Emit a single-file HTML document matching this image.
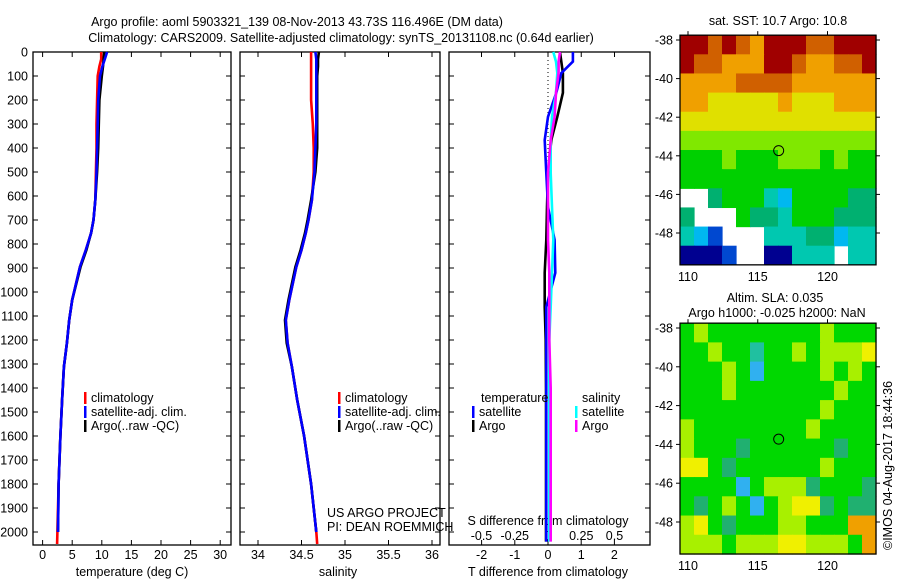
<!DOCTYPE html>
<html><head><meta charset="utf-8"><style>
html,body{margin:0;padding:0;background:#fff;}
svg{display:block;font-family:"Liberation Sans",sans-serif;}
text{font-size:12.5px;fill:#000;}
</style></head><body>
<svg id="c" width="900" height="580" viewBox="0 0 900 580" xmlns="http://www.w3.org/2000/svg">
<text x="297" y="26" text-anchor="middle">Argo profile: aoml 5903321_139 08-Nov-2013 43.73S 116.496E (DM data)</text>
<text x="341" y="42" text-anchor="middle">Climatology: CARS2009. Satellite-adjusted climatology: synTS_20131108.nc (0.64d earlier)</text>
<text x="778" y="25" text-anchor="middle">sat. SST: 10.7 Argo: 10.8</text>
<text x="775" y="302" text-anchor="middle">Altim. SLA: 0.035</text>
<text x="777" y="317" text-anchor="middle">Argo h1000: -0.025 h2000: NaN</text>
<text x="0" y="0" transform="translate(892,550) rotate(-90)">©IMOS 04-Aug-2017 18:44:36</text>
<text x="327" y="517">US ARGO PROJECT</text>
<text x="327" y="531">PI: DEAN ROEMMICH</text>
<g id="g"></g>
</svg>
<script>
// ---- data ----
const depthTicks=[0,100,200,300,400,500,600,700,800,900,1000,1100,1200,1300,1400,1500,1600,1700,1800,1900,2000];
const tempTicks=[0,5,10,15,20,25,30];
const salTicks=[34,34.5,35,35.5,36];
const tdTicks=[-2,-1,0,1,2];
const sdTicks=[-0.5,-0.25,0,0.25,0.5];
const depths=[0,30,60,100,200,300,400,500,617,700,754,825,896,1033,1117,1213,1312,1450,1600,1800,2000,2050];
const tempClim=[9.9,9.9,9.6,9.3,9.2,9.1,9.1,9.0,8.9,8.6,8.2,7.3,6.3,5.0,4.5,4.1,3.6,3.3,3.0,2.7,2.5,2.45];
const tempSat=[10.9,10.5,10.1,9.7,9.4,9.3,9.2,9.1,8.9,8.6,8.2,7.3,6.3,5.0,4.5,4.1,3.6,3.3,3.0,2.7,2.6,null];
const tempArgo=[10.4,10.3,10.2,10.0,9.6,9.5,9.4,9.2,8.9,8.6,8.2,7.4,6.4,5.0,4.5,4.1,3.6,3.3,3.0,2.7,2.6,null];
const salClim=[34.61,34.61,34.61,34.61,34.61,34.63,34.64,34.64,34.62,34.58,34.55,34.50,34.44,34.36,34.32,34.34,34.39,34.45,34.53,34.61,34.67,34.68];
const salSat=[34.66,34.67,34.67,34.67,34.67,34.67,34.66,34.65,34.62,34.58,34.55,34.50,34.44,34.36,34.32,34.34,34.39,34.45,34.53,34.61,34.67,null];
const salArgo=[34.70,34.69,34.69,34.68,34.68,34.68,34.68,34.66,34.61,34.57,34.54,34.49,34.43,34.35,34.31,34.33,34.39,34.45,34.53,34.61,34.67,null];
const ddepths=[0,40,88,170,270,367,504,646,783,920,1062,1200,1400,1700,2040];
const tdSat=[0.75,0.75,0.4,0.25,0.0,-0.1,-0.05,0.0,0.2,0.22,-0.05,-0.05,-0.05,-0.05,-0.05];
const tdArgo=[0.36,0.4,0.45,0.45,0.28,0.1,0.0,-0.03,-0.05,-0.1,-0.1,-0.07,-0.06,-0.06,-0.06];
const sdSat=[0.04,0.06,0.07,0.06,0.03,0.02,0.02,0.03,0.04,0.03,0.02,0.01,0.01,0.01,0.01];
const sdArgo=[0.09,0.08,0.08,0.06,0.05,0.02,0.0,0.0,0.0,0.01,0.01,0.01,0.02,0.02,0.02];
const sstRows=["AA9A98AAA99AAA","A99888AA98899A","88889999888888","88777778777888","77777777777777","66666666666666","55565556665655","55555555555555","..455532555544","4...5443555444","321...33344233","0001..00333.33"];
const slaRows=["56555555556555","55655355656667","55565255556565","55565555555655","55555555556555","65555555565555","65554555555455","77545555556555","55552566645554","54565256774544","67545556655588","66656667766658"];
const mapLonTicks=[110,115,120];
const mapLatTicks=[-38,-40,-42,-44,-46,-48];
const argoLon=116.5, argoLat=-43.73;
// ---- drawing ----
const NS="http://www.w3.org/2000/svg";
const G=document.getElementById('g');
function mk(t,a,p){const e=document.createElementNS(NS,t);for(const k in a)e.setAttribute(k,a[k]);(p||G).appendChild(e);return e;}
const top0=52, bot0=545;
const yD=d=>top0+d*0.24;
const xT=v=>42.6+v*5.92;
const xS=v=>258+(v-34)*87;
const xTD=v=>548+v*33.2;
const xSD=v=>548+v*133;
const panels=[[33,231,'temperature-panel'],[240,440,'salinity-panel'],[449,650,'difference-panel']];
panels.forEach(([l,r,n],i)=>{
  const f=mk('rect',{x:l,y:top0,width:r-l,height:bot0-top0,fill:'none',stroke:'#000','stroke-width':1.3});
  
  
  depthTicks.forEach(d=>{
    mk('line',{x1:l,x2:l+5,y1:yD(d),y2:yD(d),stroke:'#000'});
    mk('line',{x1:r,x2:r-5,y1:yD(d),y2:yD(d),stroke:'#000'});
  });
});
depthTicks.forEach(d=>{
  const t=mk('text',{x:28,y:yD(d)+4.5,'text-anchor':'end'});t.textContent=d;
  
  
});
function xticks(ticks,fx,y,lab,inTop){
  ticks.forEach(v=>{
    const x=fx(v);
    mk('line',{x1:x,x2:x,y1:bot0,y2:bot0-5,stroke:'#000'});
    if(inTop)mk('line',{x1:x,x2:x,y1:top0,y2:top0+5,stroke:'#000'});
    if(lab){const t=mk('text',{x:x,y:y,'text-anchor':'middle'});t.textContent=v;
    
    }
  });
}
xticks(tempTicks,xT,559,true,true);
xticks(salTicks,xS,559,true,true);
xticks(tdTicks,xTD,559,true,false);
sdTicks.forEach(v=>{const x=xSD(v);mk('line',{x1:x,x2:x,y1:top0,y2:top0+5,stroke:'#000'});
  const t=mk('text',{x:x,y:540,'text-anchor':'middle'});t.textContent=v;
  
  });
[[132,576,'temperature (deg C)','temperature-axis-title'],[338,576,'salinity','salinity-axis-title'],[548,576,'T difference from climatology','t-diff-axis-title'],[548,525,'S difference from climatology','s-diff-axis-title']].forEach(([x,y,s,n])=>{
  const t=mk('text',{x:x,y:y,'text-anchor':'middle'});t.textContent=s;
  
  
});
mk('line',{x1:548,x2:548,y1:top0,y2:yD(500),stroke:'#000','stroke-dasharray':'1,3'});
function prof(vals,ds,fx,col,n){
  let pts=[];
  vals.forEach((v,i)=>{if(v!==null)pts.push(fx(v).toFixed(1)+','+yD(ds[i]).toFixed(1));});
  const p=mk('polyline',{points:pts.join(' '),fill:'none',stroke:col,'stroke-width':2.6});
  
  
}
prof(tempClim,depths,xT,'#f00','temp-climatology-line');
prof(tempArgo,depths,xT,'#000','temp-argo-line');
prof(tempSat,depths,xT,'#00f','temp-satellite-line');
prof(salClim,depths,xS,'#f00','sal-climatology-line');
prof(salArgo,depths,xS,'#000','sal-argo-line');
prof(salSat,depths,xS,'#00f','sal-satellite-line');
prof(tdArgo,ddepths,xTD,'#000','tdiff-argo-line');
prof(tdSat,ddepths,xTD,'#00f','tdiff-satellite-line');
prof(sdSat,ddepths,xSD,'#0ff','sdiff-satellite-line');
prof(sdArgo,ddepths,xSD,'#f0f','sdiff-argo-line');
function leg(x,y,col,s,n){
  mk('rect',{x:x,y:y-10,width:2.5,height:12,fill:col});
  const t=mk('text',{x:x+7,y:y});t.textContent=s;
  
  
}
[[84,'temp'],[338,'sal']].forEach(([x,p])=>{
  leg(x,402,'#f00','climatology',p+'-legend-climatology');
  leg(x,416,'#00f','satellite-adj. clim.',p+'-legend-satellite');
  leg(x,430,'#000','Argo(..raw -QC)',p+'-legend-argo');
});
let lt=mk('text',{x:481,y:402});lt.textContent='temperature';


lt=mk('text',{x:582,y:402});lt.textContent='salinity';


leg(472,416,'#00f','satellite','legend-t-satellite');
leg(472,430,'#000','Argo','legend-t-argo');
leg(575,416,'#0ff','satellite','legend-s-satellite');
leg(575,430,'#f0f','Argo','legend-s-argo');
// maps
const sstCol={'0':'#000090','1':'#0048d0','2':'#00b8f0','3':'#00c8b0','4':'#00b070','5':'#00d000','6':'#80e800','7':'#e0e000','8':'#f0a000','9':'#d06000','A':'#a00000'};
const slaCol={'2':'#30b0f0','3':'#20c0a0','4':'#20b070','5':'#00d800','6':'#a8f000','7':'#f0f000','8':'#f0a000'};
function map(x0,rows,cmap,name,lat38y,lat48y){
  const lx=v=>688+(v-110)*13.95;
  const ly=v=>lat38y+(-38-v)*(lat48y-lat38y)/10;
  const w=196,h=ly(-49.65)-ly(-37.75);
  const yTop=ly(-37.75);
  const nr=rows.length,nc=rows[0].length;
  const cw=w/nc,ch=h/nr;
  rows.forEach((r,i)=>{for(let j=0;j<nc;j++){const c=r[j];if(c==='.'||!cmap[c])continue;
    const e=mk('rect',{x:x0+j*cw,y:yTop+i*ch,width:cw+0.6,height:ch+0.6,fill:cmap[c]});
    
    }});
  const f=mk('rect',{x:x0,y:yTop,width:w,height:h,fill:'none',stroke:'#000','stroke-width':1.3});
  
  
  mapLonTicks.forEach(v=>{const x=lx(v);
    mk('line',{x1:x,x2:x,y1:yTop,y2:yTop-4,stroke:'#000'});
    const t=mk('text',{x:x,y:yTop+h+16,'text-anchor':'middle'});t.textContent=v;
    
    });
  mapLatTicks.forEach(v=>{const y=ly(v);
    mk('line',{x1:x0,x2:x0-4,y1:y,y2:y,stroke:'#000'});
    mk('line',{x1:x0+w,x2:x0+w+4,y1:y,y2:y,stroke:'#000'});
    const t=mk('text',{x:x0-7,y:y+4.5,'text-anchor':'end'});t.textContent=v;
    
    });
  const c=mk('circle',{cx:lx(argoLon),cy:ly(argoLat),r:5,fill:'none',stroke:'#000','stroke-width':1});
  
  
}
map(680,sstRows,sstCol,'sst-map',40,233);
map(680,slaRows,slaCol,'sla-map',328,522);
</script>
</body></html>
